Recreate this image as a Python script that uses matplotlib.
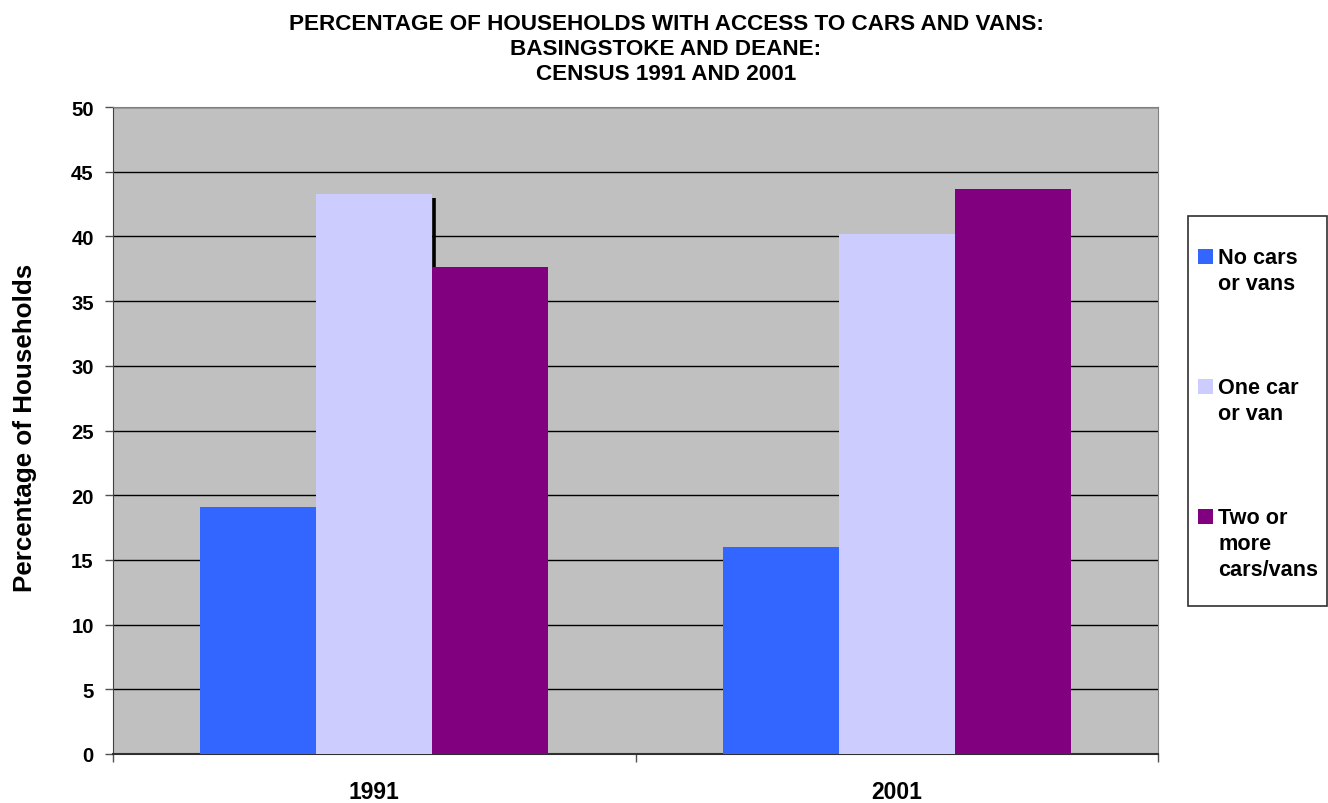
import matplotlib
matplotlib.use("Agg")
import matplotlib.pyplot as plt
from matplotlib.patches import Rectangle
import numpy as np

plt.rcParams['font.family'] = ['Liberation Sans', 'DejaVu Sans']

categories = ["1991", "2001"]
series_names = ["No cars\nor vans", "One car\nor van", "Two or\nmore\ncars/vans"]
no_cars = [19.1, 16.0]
one_car = [43.3, 40.2]
two_plus = [37.6, 43.7]
colors = ["#3366FF", "#CCCCFF", "#800080"]
title = "PERCENTAGE OF HOUSEHOLDS WITH ACCESS TO CARS AND VANS:\nBASINGSTOKE AND DEANE:\nCENSUS 1991 AND 2001"
ylabel = "Percentage of Households"
yticks = list(range(0, 51, 5))
# stray black line seen in the original (1991, between bars)
stray_top = 43.0

W, H = 1328, 804
fig = plt.figure(figsize=(W/100, H/100), dpi=100)
ax = fig.add_axes([113/W, 1-755/H, (1158-113)/W, (755-108)/H])
ax.set_facecolor("#C0C0C0")

x = np.arange(len(categories))
w = 116/522.5
values = [no_cars, one_car, two_plus]
for i, (vals, c, name) in enumerate(zip(values, colors, series_names)):
    ax.bar(x + (i-1)*w, vals, width=w, color=c, label=name, zorder=3, linewidth=0)

ax.vlines(x[0] + 0.5*w + 0.004, two_plus[0], stray_top, color="black", linewidth=2.6, zorder=2)

ax.set_xlim(-0.5, 1.5)
ax.set_ylim(0, 50)
ax.set_yticks(yticks)
ax.set_yticklabels([str(t) for t in yticks], fontsize=14.6, fontweight="bold")
ax.yaxis.grid(True, color="black", linewidth=1.0, zorder=1)
ax.set_axisbelow(True)
ax.set_xticks([-0.5, 0.5, 1.5])
ax.set_xticklabels([])
ax.set_xticks(x, minor=True)
ax.set_xticklabels(categories, minor=True, fontsize=16.5, fontweight="bold")
ax.tick_params(axis="x", which="minor", length=0, pad=19)
ax.tick_params(axis="x", which="major", length=5.8, width=1.0, color="#505050")
ax.tick_params(axis="y", length=5.8, width=1.0, color="#505050", pad=8.0)
for s in ["top", "right"]:
    ax.spines[s].set_color("#808080")
ax.spines["left"].set_color("#404040")
ax.spines["bottom"].set_color("#303030")
ax.spines["bottom"].set_linewidth(1.5)

ax.set_ylabel(ylabel, fontsize=18.7, fontweight="bold")
ax.yaxis.set_label_coords((37.5-113)/1045, 0.505)

# title, line by line
for j, line in enumerate(title.split("\n")):
    fig.text(666/W, 1-(30+25*j)/H, line, ha="center", va="baseline",
             fontsize=16.2, fontweight="bold")

# legend drawn manually
fig.patches.append(Rectangle((1188/W, 1-607/H), (1327-1188)/W, (607-217)/H,
                             transform=fig.transFigure, facecolor="white",
                             edgecolor="#303030", linewidth=1.2))
for i, (name, c) in enumerate(zip(series_names, colors)):
    top = 250 + 130*i
    fig.patches.append(Rectangle((1198/W, 1-(top+15)/H), 15/W, 15/H,
                                 transform=fig.transFigure, facecolor=c,
                                 edgecolor="none"))
    for j, line in enumerate(name.split("\n")):
        fig.text(1218/W, 1-(264+130*i+26*j)/H, line, ha="left", va="baseline",
                 fontsize=15.6, fontweight="bold")

fig.savefig("out.png", dpi=100, facecolor="white")
